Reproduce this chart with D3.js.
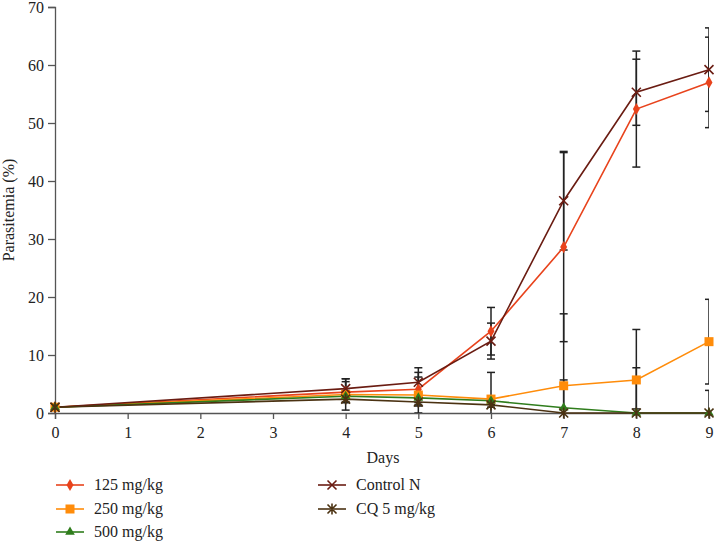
<!DOCTYPE html>
<html>
<head>
<meta charset="utf-8">
<script src="https://cdn.jsdelivr.net/npm/d3@7"></script>
<style>
  body { margin: 0; background: #fff; }
  svg { display: block; }
  text { font-family: "Liberation Serif", "DejaVu Serif", serif; fill: #222; }
</style>
</head>
<body>
<svg id="chart" width="714" height="541"></svg>
<script>
// ---- Data ----
const days = [0, 4, 5, 6, 7, 8, 9];
const xTicks = [0, 1, 2, 3, 4, 5, 6, 7, 8, 9];
const yTicks = [0, 10, 20, 30, 40, 50, 60, 70];

const s125 = [1.0, 3.6, 4.1, 14.1, 28.6, 52.4, 57.0];
const e125 = [0, 1.8, 2.9, 4.1, 16.3, 10.0, 7.8];
const s250 = [1.0, 3.2, 3.1, 2.4, 4.7, 5.7, 12.3];
const e250 = [0, 2.7, 3.1, 4.6, 12.4, 8.7, 7.3];
const s500 = [1.0, 2.9, 2.6, 2.1, 0.9, 0, 0];
const e500 = [0, 1.0, 0.8, 0.6, 4.8, 7.8, 3.9];
const sCtrl = [1.0, 4.2, 5.3, 12.4, 36.6, 55.3, 59.2];
const eCtrl = [0, 1.7, 2.5, 3.1, 8.5, 5.7, 7.2];
const sCQ = [1.0, 2.4, 1.9, 1.4, 0, 0, 0];
const eCQ = [0, 0.6, 0.5, 0.4, 0, 0.7, 0];

const seriesNames = ["125 mg/kg", "250 mg/kg", "500 mg/kg", "Control N", "CQ 5 mg/kg"];
const seriesValues = [s125, s250, s500, sCtrl, sCQ];
const seriesErrors = [e125, e250, e500, eCtrl, eCQ];
const seriesColors = ["#e8431c", "#ff8c0a", "#2f7d1c", "#6a1c12", "#4b3212"];
const seriesMarkers = ["diamond", "square", "triangle", "x", "asterisk"];

// ---- Layout ----
const svg = d3.select("#chart");
const L = 55, R = 709, T = 7, B = 413;
const FS = 16;
const x = d3.scaleLinear().domain([0, 9]).range([L, R]);
const y = d3.scaleLinear().domain([0, 70]).range([B, T]);

svg.append("defs").append("clipPath").attr("id", "plotclip")
  .append("rect").attr("x", L - 1).attr("y", T - 2).attr("width", R - L + 1).attr("height", B - T + 2);

// Axes
const axisColor = "#555";
const xAxis = svg.append("g").attr("transform", `translate(0,${B})`)
  .call(d3.axisBottom(x).tickValues(xTicks).tickSize(6).tickPadding(8).tickFormat(d3.format("d")));
const yAxis = svg.append("g").attr("transform", `translate(${L},0)`)
  .call(d3.axisLeft(y).tickValues(yTicks).tickSize(7).tickPadding(4).tickFormat(d3.format("d")));
[xAxis, yAxis].forEach(g => {
  g.select(".domain").attr("stroke", axisColor).attr("stroke-width", 1.3);
  g.selectAll(".tick line").attr("stroke", axisColor).attr("stroke-width", 1.3);
  g.selectAll(".tick text").attr("font-size", FS).attr("fill", "#222")
    .style("font-family", '"Liberation Serif", "DejaVu Serif", serif');
});

svg.append("text").attr("x", 383).attr("y", 463).attr("text-anchor", "middle")
  .attr("font-size", FS).text("Days");
svg.append("text").attr("transform", `translate(14,${(T + B) / 2}) rotate(-90)`)
  .attr("text-anchor", "middle").attr("font-size", FS).text("Parasitemia (%)");

// Error bars
const eb = svg.append("g").attr("clip-path", "url(#plotclip)");
seriesValues.forEach((vals, si) => {
  const errs = seriesErrors[si];
  days.forEach((d, i) => {
    const e = errs[i];
    if (!e) return;
    const cx = x(d), y1 = y(vals[i] + e), y2 = y(vals[i] - e);
    eb.append("line").attr("x1", cx).attr("x2", cx).attr("y1", y1).attr("y2", y2)
      .attr("stroke", "#222").attr("stroke-width", 1.5);
    [y1, y2].forEach(yy => {
      eb.append("line").attr("x1", cx - 4).attr("x2", cx + 4).attr("y1", yy).attr("y2", yy)
        .attr("stroke", "#222").attr("stroke-width", 1.5);
    });
  });
});

// Marker drawing
function drawMarker(g, type, cx, cy, color) {
  if (type === "diamond") {
    g.append("path").attr("d", d3.symbol(d3.symbolDiamond, 42)())
      .attr("transform", `translate(${cx},${cy})`).attr("fill", color);
  } else if (type === "square") {
    g.append("rect").attr("x", cx - 4.5).attr("y", cy - 4.5).attr("width", 9).attr("height", 9).attr("fill", color);
  } else if (type === "triangle") {
    g.append("path").attr("d", d3.symbol(d3.symbolTriangle, 40)())
      .attr("transform", `translate(${cx},${cy})`).attr("fill", color);
  } else if (type === "x") {
    const s = 4.5;
    g.append("path").attr("d", `M${cx - s},${cy - s}L${cx + s},${cy + s}M${cx - s},${cy + s}L${cx + s},${cy - s}`)
      .attr("stroke", color).attr("stroke-width", 1.6).attr("fill", "none");
  } else if (type === "asterisk") {
    const s = 4.5;
    g.append("path").attr("d", `M${cx - s},${cy - s}L${cx + s},${cy + s}M${cx - s},${cy + s}L${cx + s},${cy - s}M${cx},${cy - s - 1}L${cx},${cy + s + 1}`)
      .attr("stroke", color).attr("stroke-width", 1.6).attr("fill", "none");
  }
}

// Lines
const line = d3.line().x((d, i) => x(days[i])).y(d => y(d));
const lg = svg.append("g");
seriesValues.forEach((vals, si) => {
  lg.append("path").datum(vals).attr("d", line).attr("fill", "none")
    .attr("stroke", seriesColors[si]).attr("stroke-width", 1.6);
});
seriesValues.forEach((vals, si) => {
  vals.forEach((v, i) => drawMarker(lg, seriesMarkers[si], x(days[i]), y(v), seriesColors[si]));
});

// Legend
const legendPos = [[56, 485], [56, 509], [56, 532], [318, 485], [318, 509]];
seriesNames.forEach((name, si) => {
  const [lx, ly] = legendPos[si];
  const g = svg.append("g");
  g.append("line").attr("x1", lx).attr("x2", lx + 28).attr("y1", ly).attr("y2", ly)
    .attr("stroke", seriesColors[si]).attr("stroke-width", 1.6);
  drawMarker(g, seriesMarkers[si], lx + 14, ly, seriesColors[si]);
  g.append("text").attr("x", lx + 38).attr("y", ly + 5).attr("font-size", FS).text(name);
});
</script>
</body>
</html>
